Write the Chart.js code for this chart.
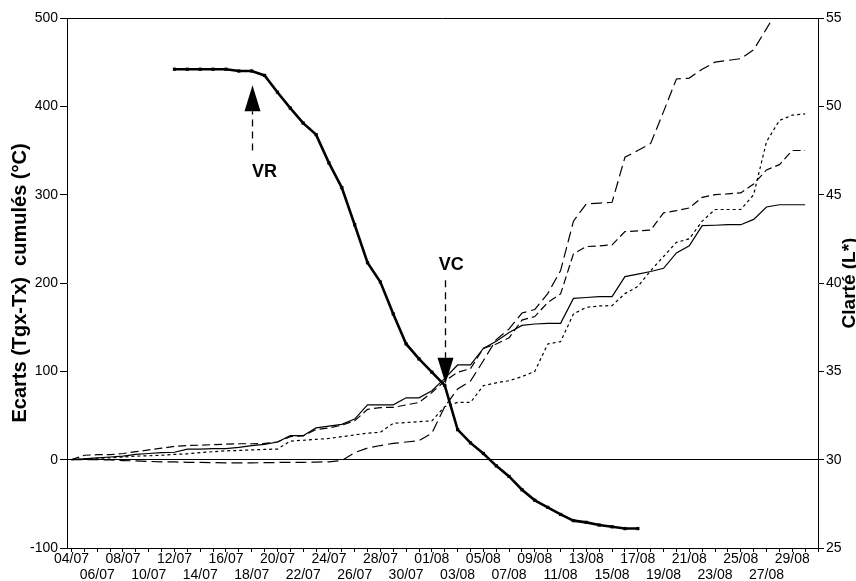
<!DOCTYPE html>
<html><head><meta charset="utf-8">
<script src="https://cdn.jsdelivr.net/npm/chart.js@4.4.1/dist/chart.umd.min.js"></script>
<style>html,body{margin:0;padding:0;background:#fff}canvas{display:block}</style>
</head><body>
<canvas id="c" width="856" height="581"></canvas>
<script>
// Day index 0 = 04/07
const dates = ['04/07','05/07','06/07','07/07','08/07','09/07','10/07','11/07','12/07','13/07','14/07','15/07','16/07','17/07','18/07','19/07','20/07','21/07','22/07','23/07','24/07','25/07','26/07','27/07','28/07','29/07','30/07','31/07',
 '01/08','02/08','03/08','04/08','05/08','06/08','07/08','08/08','09/08','10/08','11/08','12/08','13/08','14/08','15/08','16/08','17/08','18/08','19/08','20/08','21/08','22/08','23/08','24/08','25/08','26/08','27/08','28/08','29/08','30/08'];

// Ecarts (Tgx-Tx) cumulés (°C), left axis
const ecarts = [null,null,null,null,null,null,null,null,
 442,442,442,442,442,440,440,435,416,398,381,368,336,308,266,223,201,165,131,114,99,84,34,19,7,-7,-19,-34,-46,-54,-62,-69,-71,-74,-76,-78,-78,
 null,null,null,null,null,null,null,null,null,null,null,null,null];

// Clarté (L*), right axis
const clarteA = [30,30,30,29.98,29.95,29.93,29.9,29.88,29.87,29.85,29.85,29.83,29.82,29.82,29.82,29.83,29.84,29.85,29.85,29.86,29.88,29.95,30.4,30.66,30.8,30.92,31.0,31.08,31.5,33.0,34.0,34.45,35.6,36.8,37.4,38.3,38.5,39.4,40.7,43.5,44.48,44.52,44.57,47.12,47.5,47.9,49.7,51.55,51.6,52.1,52.5,52.6,52.7,53.2,54.4,55.6,56.5,57];
const clarteB = [30,30.25,30.28,30.28,30.35,30.45,30.55,30.65,30.75,30.8,30.82,30.85,30.88,30.9,30.9,30.92,31.0,31.3,31.35,31.7,31.8,31.95,32.2,32.85,32.95,32.96,33.1,33.24,33.8,34.45,34.95,35.15,36.3,36.55,36.9,37.9,38.1,38.9,39.38,41.65,42.06,42.1,42.16,42.91,42.95,43.0,43.97,44.1,44.25,44.85,45.0,45.05,45.1,45.6,46.4,46.7,47.5,47.5];
const clarteC = [30,30.05,30.08,30.1,30.15,30.2,30.22,30.25,30.3,30.33,30.4,30.45,30.5,30.52,30.55,30.58,30.6,31.05,31.1,31.15,31.2,31.3,31.4,31.5,31.55,32.06,32.1,32.15,32.2,33.0,33.24,33.24,34.19,34.35,34.47,34.7,35.0,36.55,36.68,38.25,38.62,38.7,38.72,39.4,39.8,40.7,41.5,42.3,42.5,43.5,44.16,44.16,44.16,45.0,48.0,49.2,49.5,49.57];
const clarteD = [30,30.05,30.1,30.15,30.2,30.3,30.35,30.4,30.42,30.6,30.6,30.62,30.62,30.7,30.8,30.87,31.0,31.36,31.36,31.8,31.9,32.0,32.3,33.1,33.1,33.1,33.5,33.5,33.9,34.6,35.36,35.36,36.3,36.7,37.2,37.6,37.68,37.72,37.72,39.13,39.18,39.23,39.23,40.36,40.5,40.65,40.83,41.7,42.1,43.25,43.27,43.3,43.3,43.6,44.3,44.43,44.43,44.43];

// Axis ticks
const leftTicks = [-100,0,100,200,300,400,500];
const rightTicks = [25,30,35,40,45,50,55];

// Annotations (day index, left-axis values)
const arrowNames = ['VR','VC'];
const arrowDay = [14, 29];
const arrowTip = [424, 86];
const arrowTail = [350, 203];
const labelDay = [15, 29.5];
const labelVal = [326, 220];

const FONT = '"Liberation Sans", Arial, Helvetica, sans-serif';
const toXY = arr => arr.map((v,i)=>({x:i,y:v})).filter(p=>p.y!==null);

const deco = {
  id:'deco',
  afterDatasetsDraw(chart){
    const {ctx, chartArea:a, scales:{x,y}} = chart;
    ctx.save();
    ctx.strokeStyle='#000'; ctx.fillStyle='#000'; ctx.lineWidth=1;
    ctx.beginPath(); ctx.moveTo(a.left, a.top+0.5); ctx.lineTo(a.right, a.top+0.5); ctx.stroke();
    arrowNames.forEach((n,i)=>{
      const px = Math.round(x.getPixelForValue(arrowDay[i]))+0.5;
      const tipY = y.getPixelForValue(arrowTip[i]);
      const tailY = y.getPixelForValue(arrowTail[i]);
      const dir = tailY > tipY ? 1 : -1;
      const headLen = 26, headW = 8;
      const baseY = tipY + dir*headLen;
      ctx.setLineDash([7,5]); ctx.lineWidth=1.3;
      ctx.beginPath(); ctx.moveTo(px, tailY); ctx.lineTo(px, baseY); ctx.stroke();
      ctx.setLineDash([]);
      ctx.beginPath(); ctx.moveTo(px, tipY); ctx.lineTo(px-headW, baseY); ctx.lineTo(px+headW, baseY); ctx.closePath(); ctx.fill();
      ctx.font='bold 18px '+FONT;
      ctx.textAlign='center'; ctx.textBaseline='middle';
      ctx.fillText(n, x.getPixelForValue(labelDay[i]), y.getPixelForValue(labelVal[i]));
    });
    // axis titles
    ctx.textAlign='center'; ctx.textBaseline='middle';
    const cy = (a.top+a.bottom)/2;
    ctx.font='bold 20px '+FONT;
    ctx.save(); ctx.translate(20, cy); ctx.rotate(-Math.PI/2);
    ctx.fillText('Ecarts (Tgx-Tx)  cumulés (°C)', 0, 0); ctx.restore();
    ctx.font='bold 19px '+FONT;
    ctx.save(); ctx.translate(850, cy); ctx.rotate(-Math.PI/2);
    ctx.fillText('Clarté (L*)', 0, 0); ctx.restore();
    ctx.restore();
  }
};

const lineDs = (arr, dash) => ({
  data: toXY(arr), yAxisID:'y2', borderColor:'#000', borderWidth:1.2,
  borderDash: dash, pointRadius:0, tension:0, fill:false
});

new Chart(document.getElementById('c'), {
  type:'line',
  data:{ datasets:[
    lineDs(clarteA,[11,5]),
    lineDs(clarteB,[8,4]),
    lineDs(clarteC,[3,3]),
    lineDs(clarteD,[]),
    { data: toXY(ecarts), yAxisID:'y', borderColor:'#000', backgroundColor:'#000', borderWidth:2.6,
      pointStyle:'rect', pointRadius:2.3, pointBorderWidth:0, tension:0, fill:false }
  ]},
  options:{
    responsive:false, animation:false, devicePixelRatio:1,
    layout:{padding:{top:18,left:0,right:0,bottom:0}},
    plugins:{legend:{display:false}, tooltip:{enabled:false}},
    scales:{
      x:{ type:'linear', min:-0.35, max:58.0,
        afterFit(s){ s.height = 33; },
        border:{color:'#000', width:1},
        grid:{drawOnChartArea:false, tickLength:4, tickColor:'#000'},
        ticks:{ stepSize:1, autoSkip:false, maxRotation:0, minRotation:0, includeBounds:false, padding:-1,
          color:'#000', font:{family:FONT, size:14, lineHeight:1.15},
          callback(v){ const d = dates[v]; if(d===undefined) return ''; if(v%4===0) return [d]; if(v%4===2) return ['', d]; return ''; } }
      },
      y:{ position:'left', min:-100, max:500,
        afterFit(s){ s.width = 67; },
        afterBuildTicks(s){ s.ticks = leftTicks.map(v=>({value:v})); },
        border:{color:'#000', width:1},
        grid:{ color: c => (c.tick && c.tick.value===0) ? '#000' : 'rgba(0,0,0,0)', lineWidth:1, tickLength:7, tickColor:'#000', drawOnChartArea:true },
        ticks:{ color:'#000', padding:2, font:{family:FONT, size:14} }
      },
      y2:{ position:'right', min:25, max:55,
        afterFit(s){ s.width = 38; },
        afterBuildTicks(s){ s.ticks = rightTicks.map(v=>({value:v})); },
        border:{color:'#000', width:1},
        grid:{ drawOnChartArea:false, tickLength:6, tickColor:'#000' },
        ticks:{ color:'#000', padding:2, font:{family:FONT, size:14} }
      }
    }
  },
  plugins:[deco]
});
</script>
</body></html>
